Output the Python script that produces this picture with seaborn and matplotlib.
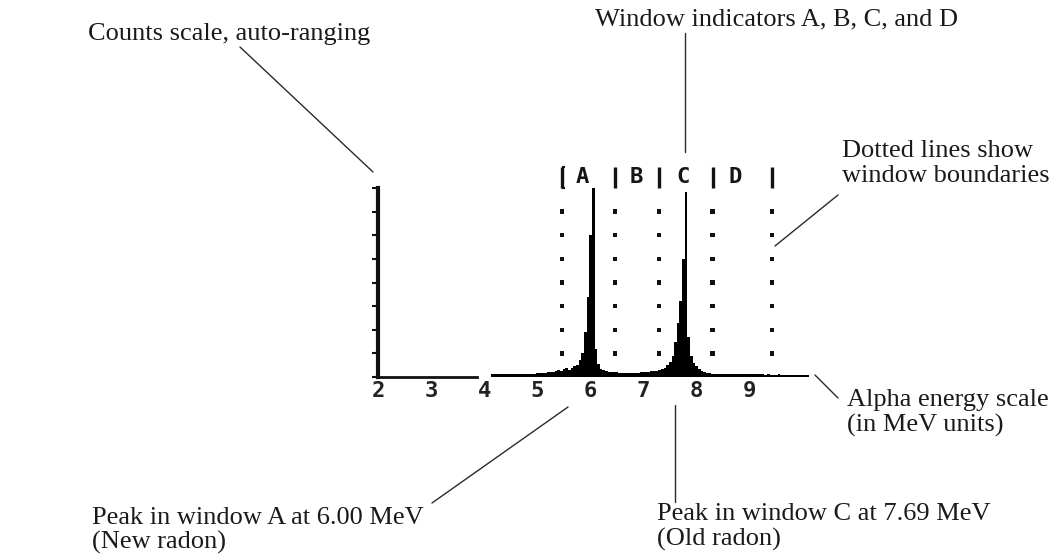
import numpy as np
import pandas as pd
import matplotlib
matplotlib.use("Agg")
import matplotlib.pyplot as plt
import seaborn as sns

# alpha spectrum: 0.05 MeV channels from 4.00 to 10.10 MeV, counts in scale divisions
channel_energy = np.round(np.linspace(4.00, 10.10, 123), 2)

counts_4_to_5 = [0, 0, 0, 0.12, 0.12, 0.11, 0.12, 0.12, 0.11, 0.12,
                 0.12, 0.13, 0.12, 0.13, 0.12, 0.13, 0.13, 0.14, 0.13, 0.14]
counts_5_to_58 = [0.15, 0.16, 0.17, 0.19, 0.2, 0.2, 0.22, 0.26, 0.3, 0.27,
                  0.32, 0.36, 0.3, 0.38, 0.45, 0.5]
peak_a = [0.7, 1.0, 1.9, 3.4, 6.0, 8.05, 1.2, 0.55, 0.35, 0.28]
counts_a_to_c = [0.24, 0.22, 0.22, 0.2, 0.2, 0.19, 0.18, 0.18, 0.17, 0.17,
                 0.18, 0.18, 0.19, 0.2, 0.2, 0.22, 0.22, 0.24, 0.25, 0.27,
                 0.28, 0.32]
peak_c = [0.4, 0.5, 0.65, 0.9, 1.5, 2.3, 3.2, 5.0, 7.84, 1.7,
          0.9, 0.6, 0.45, 0.32, 0.25, 0.2, 0.16]
counts_tail = [0.15, 0.14, 0.14, 0.13, 0.13, 0.13, 0.12, 0.12, 0.12, 0.12,
               0.12, 0.11, 0.12, 0.11, 0.11, 0.11, 0.12, 0.11, 0.11, 0.11,
               0.11, 0.1, 0.11, 0.1, 0.1, 0.1, 0.11, 0.1, 0.1, 0.1,
               0.1, 0.1, 0.1, 0.1, 0.1, 0.1, 0.1, 0.1]

energy_ticks = [2, 3, 4, 5, 6, 7, 8, 9]
count_ticks = [0, 1, 2, 3, 4, 5, 6, 7, 8]
window_bounds = [5.46, 6.46, 7.29, 8.30, 9.42]
window_names = ["A", "B", "C", "D"]
window_label_pos = [5.84, 6.87, 7.74, 8.72]
dot_levels = [1, 2, 3, 4, 5, 6, 7]

counts = counts_4_to_5 + counts_5_to_58 + peak_a + counts_a_to_c + peak_c + counts_tail
spec = pd.DataFrame({"energy": channel_energy, "counts": counts})
dots = pd.DataFrame([(b, lv) for b in window_bounds for lv in dot_levels],
                    columns=["energy", "level"])

sns.set_style("white")
plt.rcParams["font.family"] = ["Liberation Serif", "DejaVu Serif"]

W, H = 1059, 559
fig = plt.figure(figsize=(W / 100, H / 100), dpi=100)
fig.patch.set_facecolor("white")

# plot area placed in pixels: x 2..10.1 MeV -> 378..808 px, y 0..8 -> 377..188 px
x0, x1 = 378.15, 808.25
ax = fig.add_axes([x0 / W, (H - 377) / H, (x1 - x0) / W, 189 / H])
ax.set_xlim(2, 10.1)
ax.set_ylim(0, 8)
ax.set_facecolor("none")

sns.histplot(data=spec, x="energy", weights="counts", binwidth=0.05,
             binrange=(3.975, 10.125), element="step", fill=True,
             color="black", alpha=1, linewidth=0, ax=ax)

sns.scatterplot(data=dots, x="energy", y="level", marker="s", s=10, color="#111",
                edgecolor="none", ax=ax, clip_on=False)

ax.vlines(window_bounds, 8.0, 8.9, color="#111", lw=2.4, clip_on=False)
ax.hlines(8.9, window_bounds[0], window_bounds[0] + 0.05, color="#111", lw=1.5, clip_on=False)
ax.hlines(8.0, window_bounds[0], window_bounds[0] + 0.05, color="#111", lw=1.5, clip_on=False)
for x, name in zip(window_label_pos, window_names):
    ax.text(x, 8.45, name, ha="center", va="center", fontsize=16, fontweight="bold",
            family="DejaVu Sans Mono", color="#151515", clip_on=False)

for side in ["top", "right"]:
    ax.spines[side].set_visible(False)
ax.spines["left"].set_linewidth(3)
ax.spines["left"].set_color("#111")
ax.spines["bottom"].set_linewidth(2)
ax.spines["bottom"].set_color("#111")
ax.spines["bottom"].set_bounds(2, 3.86)

ax.set_yticks(count_ticks)
ax.set_yticklabels([])
ax.tick_params(axis="y", direction="out", length=4, width=1.5, color="#111", left=True)
ax.set_xticks(energy_ticks)
ax.set_xticklabels([str(t) for t in energy_ticks], family="DejaVu Sans Mono",
                   fontweight="bold", fontsize=16, color="#222")
ax.tick_params(axis="x", length=0, pad=3)
ax.set_xlabel("")
ax.set_ylabel("")


def fx(px, py):
    return px / W, 1 - py / H


def label(px, py, s):
    fig.text(*fx(px, py), s, ha="left", va="center", fontsize=19, color="#1a1a1a")


def leader(p, q):
    fig.add_artist(plt.Line2D([p[0] / W, q[0] / W], [1 - p[1] / H, 1 - q[1] / H],
                              transform=fig.transFigure, color="#2a2a2a", lw=1))


label(88, 34, "Counts scale, auto-ranging")
leader((240, 47), (373, 172))

label(595, 19, "Window indicators A, B, C, and D")
leader((685, 33), (685, 152))

label(842, 151, "Dotted lines show")
label(842, 176, "window boundaries")
leader((838, 195), (775, 246))

label(847, 400, "Alpha energy scale")
label(847, 425, "(in MeV units)")
leader((815, 375), (838, 398))

label(92, 518, "Peak in window A at 6.00 MeV")
label(92, 542, "(New radon)")
leader((432, 503), (568, 407))

label(657, 514, "Peak in window C at 7.69 MeV")
label(657, 539, "(Old radon)")
leader((675, 405), (675, 502))

fig.savefig("out.png", dpi=100, facecolor="white")
